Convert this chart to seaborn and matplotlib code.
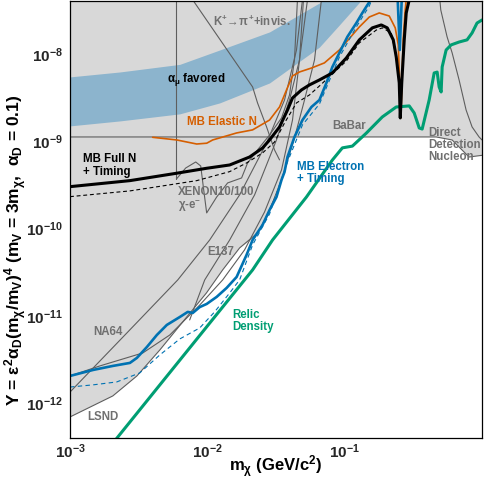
import numpy as np
import matplotlib
matplotlib.use("Agg")
import matplotlib.pyplot as plt
import seaborn as sns
from matplotlib.ticker import LogLocator, FixedLocator, FuncFormatter, NullFormatter

# ---------------- data (m_chi in GeV, Y) ----------------
# boundary of the excluded (gray) region, left-bottom to right
excl_m = [1e-3, 2.05e-3, 3.07e-3, 4.51e-3, 7.08e-3, 9.85e-3, 1.293e-2, 1.718e-2, 2.1e-2,
          2.322e-2, 2.7e-2, 2.97e-2, 3.47e-2, 3.772e-2, 4.31e-2, 4.458e-2, 0.464, 0.606, 0.805, 1.0]
excl_Y = [6.95e-13, 1.21e-12, 2.05e-12, 4.07e-12, 9.7e-12, 1.83e-11, 3.36e-11, 6.0e-11, 7.4e-11,
          8.9e-11, 1.36e-10, 2.13e-10, 3.61e-10, 5.64e-10, 1.09e-9, 1.12e-9, 1.12e-9, 1.035e-9, 6.6e-10, 6.9e-10]

# alpha_mu favored band
band_m = [1e-3, 2.31e-3, 6.3e-3, 1.23e-2, 2.84e-2, 6.55e-2, 9.15e-2, 0.128]
band_hi = [5.46e-9, 6.22e-9, 7.6e-9, 1.11e-8, 1.79e-8, 3.84e-8, 6e-8, 1e-7]
band_lo = [1.5e-9, 1.71e-9, 2.06e-9, 2.75e-9, 4.66e-9, 1.2e-8, 2.15e-8, 3.9e-8]

# gray experimental limits
babar_m = [1e-3, 0.464, 0.606, 0.805, 1.0]
babar_Y = [1.12e-9, 1.12e-9, 1.035e-9, 6.6e-10, 6.9e-10]

dd_m = [0.4932, 0.501, 0.557, 0.606, 0.681, 0.766, 0.8467, 0.952, 1.0]
dd_Y = [4.16e-8, 3.19e-8, 1.57e-8, 1.03e-8, 5.04e-9, 2.28e-9, 1.46e-9, 1.12e-9, 1.035e-9]

kpi_m = [7.83e-3, 2.136e-2, 2.32e-2, 2.7e-2, 3.085e-2, 3.355e-2]
kpi_Y = [4.16e-8, 4.19e-9, 2.75e-9, 1.46e-9, 7.96e-10, 6.12e-10]

vert_m = [5.96e-3, 5.96e-3]
vert_Y = [4.2e-8, 3.7e-10]

xenon_m = [5.96e-3, 6.96e-3, 8.23e-3, 8.95e-3, 9.41e-3, 9.89e-3, 1.17e-2, 1.405e-2, 1.776e-2,
           1.964e-2, 2.32e-2, 2.838e-2, 3.47e-2, 3.965e-2, 4.31e-2, 4.53e-2]
xenon_Y = [3.7e-10, 4.94e-10, 5.79e-10, 5.21e-10, 2.77e-10, 1.51e-10, 2.3e-10, 3.33e-10, 3.8e-10,
           5.64e-10, 7.96e-10, 1.18e-9, 1.85e-9, 3.39e-9, 8.54e-9, 4.16e-8]

e137a_m = [1e-3, 2.595e-3, 6.09e-3, 1.04e-2, 1.718e-2, 2.7e-2, 3.648e-2, 4.458e-2, 4.928e-2]
e137a_Y = [1.34e-12, 6.37e-12, 2.58e-11, 7.4e-11, 2.43e-10, 9.56e-10, 2.97e-9, 1.11e-8, 4.16e-8]

na64_m = [1e-3, 1.65e-3, 3.39e-3, 5.33e-3, 8.8e-3, 1.293e-2, 1.867e-2, 2.61e-2, 3.47e-2, 4.17e-2, 4.69e-2, 5.01e-2]
na64_Y = [2.05e-12, 2.67e-12, 3.76e-12, 6.04e-12, 1.33e-11, 2.58e-11, 5.7e-11, 1.55e-10, 4.7e-10, 1.75e-9, 8.54e-9, 4.16e-8]

e137c_m = [7.44e-3, 9.57e-3, 1.454e-2, 2.208e-2, 3.188e-2, 3.965e-2, 4.69e-2, 5.36e-2]
e137c_Y = [8.98e-12, 2.58e-11, 7.4e-11, 2.43e-10, 1.035e-9, 2.97e-9, 8.54e-9, 4.16e-8]

lsnd_m = [1e-3, 2.05e-3, 3.07e-3, 4.51e-3, 7.08e-3, 9.85e-3, 1.293e-2, 1.718e-2, 2.322e-2,
          2.7e-2, 3.47e-2, 4.31e-2, 5.1e-2, 6.03e-2, 6.77e-2]
lsnd_Y = [6.95e-13, 1.21e-12, 2.05e-12, 4.07e-12, 9.7e-12, 1.83e-11, 3.36e-11, 6.0e-11, 8.9e-11,
          1.36e-10, 3.61e-10, 1.09e-9, 2.97e-9, 8.54e-9, 4.16e-8]

# MiniBooNE-DM curves
fullN_m = [1e-3, 2.73e-3, 5.96e-3, 9.85e-3, 1.454e-2, 2.03e-2, 2.525e-2, 2.838e-2, 3.355e-2, 3.834e-2,
           4.17e-2, 4.845e-2, 5.54e-2, 6.55e-2, 8.14e-2, 0.1029, 0.1279, 0.159, 0.1848, 0.2043,
           0.2259, 0.2375, 0.2497, 0.254, 0.2604, 0.2715, 0.2807, 0.2951]
fullN_Y = [3.02e-10, 3.54e-10, 4.3e-10, 4.9e-10, 5.35e-10, 6.6e-10, 8.38e-10, 1.035e-9, 1.46e-9, 2.28e-9,
           3.13e-9, 3.87e-9, 4.42e-9, 5.04e-9, 6.06e-9, 9e-9, 1.45e-8, 1.99e-8, 2.15e-8, 1.99e-8,
           1.45e-8, 9.2e-9, 4.66e-9, 1.85e-9, 4.66e-9, 1.45e-8, 2.95e-8, 4.16e-8]

fullN_nt_m = [1e-3, 2.73e-3, 4.73e-3, 8.37e-3, 1.454e-2, 1.93e-2, 2.525e-2, 3.085e-2, 3.648e-2, 4.458e-2,
              5.54e-2, 6.55e-2, 0.1029, 0.1279, 0.17, 0.188, 0.2184, 0.2375, 0.2497, 0.254]
fullN_nt_Y = [2.32e-10, 2.7e-10, 3.08e-10, 3.54e-10, 4.49e-10, 5.64e-10, 7.35e-10, 9.8e-10, 1.62e-9, 2.75e-9,
              3.39e-9, 4.3e-9, 8.3e-9, 1.34e-8, 1.88e-8, 1.99e-8, 1.74e-8, 9.2e-9, 4.66e-9, 1.85e-9]

elastic_m = [4.0e-3, 5.99e-3, 8.37e-3, 9.9e-3, 1.094e-2, 1.634e-2, 2.136e-2, 2.838e-2, 3.355e-2, 3.772e-2,
             4.17e-2, 4.69e-2, 5.73e-2, 7.12e-2, 9.15e-2, 0.1279, 0.1512, 0.1786, 0.2112, 0.2335,
             0.2456, 0.2518, 0.2569, 0.2625, 0.2668, 0.276, 0.2807]
elastic_Y = [1.11e-9, 1.035e-9, 9.3e-10, 9.5e-10, 1.035e-9, 1.245e-9, 1.35e-9, 1.75e-9, 2.47e-9, 3.87e-9,
             5.6e-9, 6.22e-9, 6.9e-9, 7.9e-9, 1.11e-8, 2.04e-8, 2.65e-8, 2.95e-8, 2.72e-8, 1.99e-8,
             1.27e-8, 4.66e-9, 1.85e-9, 6.56e-9, 1.45e-8, 3.2e-8, 4.16e-8]

elec_m = [1e-3, 1.47e-3, 2.05e-3, 2.73e-3, 3.07e-3, 3.63e-3, 4.29e-3, 5.07e-3, 6.3e-3, 7.2e-3,
          7.83e-3, 8.8e-3, 9.9e-3, 1.17e-2, 1.382e-2, 1.634e-2, 1.93e-2, 2.136e-2, 2.525e-2, 2.838e-2,
          3.188e-2, 3.467e-2, 3.648e-2, 3.834e-2, 4.311e-2, 4.928e-2, 5.73e-2, 6.55e-2, 7.362e-2, 8.14e-2,
          9.15e-2, 0.1046, 0.1216, 0.1345, 0.1512, 0.195, 0.238, 0.2518, 0.266]
elec_Y = [2.05e-12, 2.4e-12, 2.67e-12, 2.89e-12, 3.3e-12, 4.4e-12, 6.04e-12, 7.87e-12, 9.7e-12, 1.11e-11,
          1.08e-11, 1.26e-11, 1.37e-11, 1.65e-11, 2.09e-11, 2.79e-11, 4.99e-11, 7.4e-11, 1.1e-10, 1.63e-10,
          2.3e-10, 3.6e-10, 4.45e-10, 6.6e-10, 1.12e-9, 1.75e-9, 2.47e-9, 2.97e-9, 4.66e-9, 7.1e-9,
          1.03e-8, 1.57e-8, 2.26e-8, 2.95e-8, 3.94e-8, 1e-7, 1e-7, 1.11e-8, 1e-7]

elec_nt_m = [1e-3, 1.47e-3, 2.19e-3, 3.22e-3, 4.51e-3, 6.3e-3, 8.8e-3, 1.13e-2, 1.454e-2, 1.718e-2,
             2.136e-2, 2.838e-2, 3.834e-2, 4.928e-2, 6.55e-2, 9.15e-2, 0.1216, 0.1512, 0.1728]
elec_nt_Y = [1.53e-12, 1.62e-12, 1.75e-12, 2.22e-12, 3.57e-12, 5.44e-12, 7.27e-12, 1.11e-11, 1.83e-11, 2.58e-11,
             6.49e-11, 1.47e-10, 5.79e-10, 1.54e-9, 2.67e-9, 9.2e-9, 2.04e-8, 3.55e-8, 6e-8]

relic_m = [2.0e-3, 2.23e-3, 2.136e-2, 2.985e-2, 5.27e-2, 8.14e-2, 9.62e-2, 0.1138, 0.1438, 0.188,
           0.2374, 0.2951, 0.3208, 0.349, 0.3667, 0.4124, 0.4485, 0.4715, 0.4875, 0.504,
           0.5128, 0.548, 0.596, 0.681, 0.7785, 0.8467, 0.92, 1.0]
relic_Y = [3.3e-13, 4.1e-13, 3.36e-11, 7.4e-11, 2.3e-10, 6.1e-10, 8.4e-10, 8.8e-10, 1.24e-9, 1.9e-9,
           2.47e-9, 2.54e-9, 2.11e-9, 1.42e-9, 1.38e-9, 2.97e-9, 6.06e-9, 6.2e-9, 4.19e-9, 3.67e-9,
           7.1e-9, 1.11e-8, 1.27e-8, 1.37e-8, 1.45e-8, 1.74e-8, 2.26e-8, 2.45e-8]

x_major = [1e-3, 1e-2, 1e-1]

# ---------------- style ----------------
sns.set_theme(style="white")
plt.rcParams["font.family"] = ["Liberation Sans", "DejaVu Sans"]
plt.rcParams["font.weight"] = "bold"
plt.rcParams["mathtext.fontset"] = "custom"
plt.rcParams["mathtext.rm"] = "Liberation Sans:bold"
plt.rcParams["mathtext.it"] = "Liberation Sans:bold"
plt.rcParams["mathtext.bf"] = "Liberation Sans:bold"
plt.rcParams["mathtext.sf"] = "Liberation Sans:bold"

GRAYFILL = "#d8d8d8"
GRAYLINE = "#5e5e5e"
GRAYTXT = "#707070"
ORANGE = "#D55E00"
BLUE = "#0072B2"
GREEN = "#009E73"
BAND = "#8cb4cd"

W, H = 484, 480
fig = plt.figure(figsize=(W / 100, H / 100), dpi=100)
ax = fig.add_axes([70 / W, 1 - 437.9 / H, 412 / W, 436.5 / H])
ax.set_xscale("log")
ax.set_yscale("log")
ax.set_xlim(1e-3, 1.0)
ax.set_ylim(4e-13, 4e-8)

# excluded region
poly_m = [1e-3, 1.0] + excl_m[::-1]
poly_Y = [1e-7, 1e-7] + excl_Y[::-1]
ax.fill(poly_m, poly_Y, color=GRAYFILL, lw=0, zorder=0)

# alpha_mu band
ax.fill_between(band_m, band_lo, band_hi, color=BAND, lw=0, zorder=1)


def draw(m, y, color, lw, z, ls="-"):
    sns.lineplot(x=m, y=y, sort=False, estimator=None, ax=ax, legend=False,
                 color=color, linewidth=lw, linestyle=ls, zorder=z)


for gm, gy in [(babar_m, babar_Y), (dd_m, dd_Y), (kpi_m, kpi_Y), (vert_m, vert_Y),
               (xenon_m, xenon_Y), (e137a_m, e137a_Y), (na64_m, na64_Y),
               (e137c_m, e137c_Y), (lsnd_m, lsnd_Y)]:
    draw(gm, gy, GRAYLINE, 0.8, 2)

draw(fullN_nt_m, fullN_nt_Y, "black", 0.8, 4, ls=(0, (3.5, 2.5)))
draw(elastic_m, elastic_Y, ORANGE, 1.2, 4)
draw(elec_nt_m, elec_nt_Y, BLUE, 0.8, 4, ls=(0, (4, 3)))
draw(relic_m, relic_Y, GREEN, 2.2, 5)
draw(elec_m, elec_Y, BLUE, 1.9, 6)
draw(fullN_m, fullN_Y, "black", 2.2, 6)

# ---------------- axes ----------------
for s in ax.spines.values():
    s.set_color("black")
    s.set_linewidth(0.9)
    s.set_zorder(10)

fmt = FuncFormatter(lambda v, p: r"$\mathbf{10^{%d}}$" % int(round(np.log10(v))))
ax.xaxis.set_major_locator(FixedLocator(x_major))
ax.yaxis.set_major_locator(LogLocator(base=10, numticks=20))
for axis in (ax.xaxis, ax.yaxis):
    axis.set_minor_locator(LogLocator(base=10, subs=np.arange(2, 10), numticks=20))
    axis.set_major_formatter(fmt)
    axis.set_minor_formatter(NullFormatter())
ax.tick_params(which="both", direction="in", top=False, right=False, color="black",
               labelsize=11, width=0.9, zorder=10)
ax.tick_params(which="major", length=9)
ax.tick_params(which="minor", length=4.5)
ax.tick_params(axis="x", pad=3)
ax.tick_params(axis="y", pad=5)

ax.set_xlabel(r"m$_{\chi}$ (GeV/c$^{2}$)", fontsize=12, fontweight="bold", color="black")
ax.xaxis.set_label_coords(0.5, -0.035)
ax.set_ylabel(r"Y = $\varepsilon^{2}\alpha_{D}$(m$_{\chi}$/m$_{V}$)$^{4}$ (m$_{V}$ = 3m$_{\chi}$,  $\alpha_{D}$ = 0.1)",
              fontsize=12.5, fontweight="bold", color="black")
ax.yaxis.set_label_coords(-0.1, 0.43)


def label(x, y, s, color, size=8.3):
    fig.text(x / W, 1 - y / H, s, color=color, fontsize=size, fontweight="bold",
             ha="left", va="center")


label(213, 22, r"K$^{+}\!\rightarrow\!\pi^{+}$+invis.", GRAYTXT)
label(167, 80, r"$\alpha_{\mu}$ favored", "black")
label(187, 122, "MB Elastic N", ORANGE)
label(83, 159, "MB Full N", "black")
label(83, 172, "+ Timing", "black")
label(178, 192, "XENON10/100", GRAYTXT)
label(178, 206, r"$\chi$-e$^{-}$", GRAYTXT)
label(207, 252, "E137", GRAYTXT)
label(93, 332, "NA64", GRAYTXT)
label(87, 417, "LSND", GRAYTXT)
label(332, 126, "BaBar", GRAYTXT)
label(428, 133, "Direct", GRAYTXT)
label(428, 145, "Detection", GRAYTXT)
label(428, 157, "Nucleon", GRAYTXT)
label(297, 167, "MB Electron", BLUE)
label(297, 179, "+ Timing", BLUE)
label(232, 315, "Relic", GREEN)
label(232, 327, "Density", GREEN)

fig.savefig("out.png", dpi=100)
